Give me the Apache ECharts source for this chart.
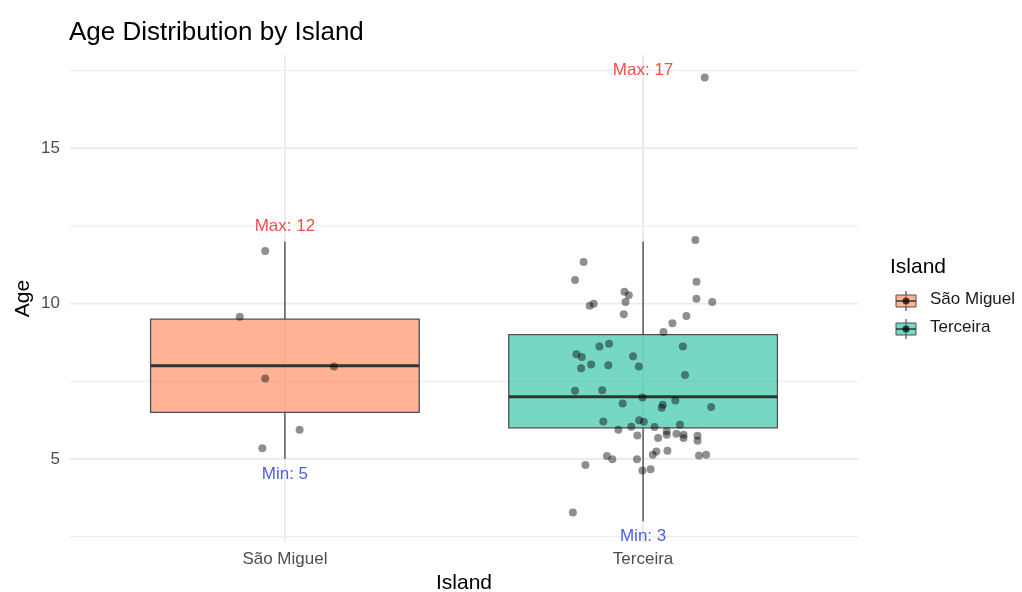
<!DOCTYPE html>
<html>
<head>
<meta charset="utf-8">
<script src="https://cdn.jsdelivr.net/npm/echarts@6/dist/echarts.min.js"></script>
<style>
html,body{margin:0;padding:0;background:#fff;}
#chart{width:1022px;height:592px;}
</style>
</head>
<body>
<div id="chart"></div>
<script>
// ---- data ----
const islands = ['São Miguel', 'Terceira'];
const whiskerLow = [5, 3];
const q1 = [6.5, 6];
const median = [8, 7];
const q3 = [9.5, 9];
const whiskerHigh = [12, 12];
const dataMax = [12, 17];
const dataMin = [5, 3];
const yTicks = [5, 10, 15];
const yMinorGrid = [2.5, 7.5, 12.5, 17.5];
const xGrid = [0, 1];

// jittered points (x position on island axis, age)
const saoMiguelX = [-0.055, -0.126, -0.055, 0.137, 0.041, -0.063];
const saoMiguelAge = [11.69, 9.58, 7.59, 7.98, 5.94, 5.35];

const terceiraX = [0.834, 0.810, 0.948, 0.960, 0.951, 0.851, 0.862, 0.946, 1.146, 1.149,
  1.149, 1.193, 1.121, 1.082, 1.057, 0.878, 0.905, 0.814, 0.829, 0.972,
  1.111, 0.855, 0.827, 0.903, 0.988, 1.117, 0.810, 0.886, 0.998, 0.943,
  1.055, 1.052, 1.090, 1.190, 0.889, 0.989, 1.002, 1.103, 0.931, 0.967,
  1.032, 1.066, 1.066, 1.093, 1.113, 1.113, 1.152, 1.152, 0.984, 1.042,
  0.899, 0.914, 0.983, 1.037, 1.027, 1.068, 1.156, 1.176, 0.839, 0.998,
  1.021, 0.804, 1.172];
const terceiraAge = [11.34, 10.76, 10.38, 10.27, 10.05, 9.93, 10.00, 9.66, 12.05, 10.70,
  10.16, 10.05, 9.60, 9.37, 9.09, 8.62, 8.71, 8.37, 8.28, 8.31,
  8.62, 8.04, 7.92, 8.02, 7.98, 7.70, 7.20, 7.21, 6.98, 6.79,
  6.75, 6.65, 6.88, 6.67, 6.21, 6.25, 6.20, 6.10, 5.94, 6.04,
  6.03, 5.89, 5.78, 5.81, 5.78, 5.68, 5.75, 5.59, 5.76, 5.68,
  5.10, 4.99, 4.99, 5.24, 5.14, 5.27, 5.11, 5.14, 4.81, 4.63,
  4.67, 3.28, 17.28];

// ---- styles ----
const boxFill = ['rgba(255,127,80,0.6)', 'rgba(26,188,156,0.6)'];
const FONT = '"Liberation Sans", Arial, Helvetica, sans-serif';
const gridColor = '#ebebeb';

const boxData = islands.map((_, i) => [i, whiskerLow[i], q1[i], median[i], q3[i], whiskerHigh[i]]);
const pointData = saoMiguelX.map((x, i) => [x, saoMiguelAge[i]])
  .concat(terceiraX.map((x, i) => [x, terceiraAge[i]]));
const maxLabels = islands.map((_, i) => ({ value: [i, dataMax[i] + 0.5], name: 'Max: ' + dataMax[i] }));
const minLabels = islands.map((_, i) => ({ value: [i, dataMin[i] - 0.5], name: 'Min: ' + dataMin[i] }));

// grid lines: [kind (0 = horizontal, 1 = vertical), value, isMajor]
const gridLineData = yMinorGrid.map(v => [0, v, 0])
  .concat(yTicks.map(v => [0, v, 1]))
  .concat(xGrid.map(v => [1, v, 1]));

const chart = echarts.init(document.getElementById('chart'), null, { renderer: 'canvas' });

function renderGrid(params, api) {
  const cs = params.coordSys;
  const kind = api.value(0), v = api.value(1), major = api.value(2);
  const w = major ? 1.8 : 1;
  if (kind === 0) {
    const y = api.coord([0, v])[1];
    return { type: 'line', shape: { x1: cs.x, y1: y, x2: cs.x + cs.width, y2: y }, style: { stroke: gridColor, lineWidth: w } };
  }
  const x = api.coord([v, 10])[0];
  return { type: 'line', shape: { x1: x, y1: cs.y, x2: x, y2: cs.y + cs.height }, style: { stroke: gridColor, lineWidth: w } };
}

function renderBox(params, api) {
  const x = api.value(0);
  const lo = api.value(1), a = api.value(2), m = api.value(3), b = api.value(4), hi = api.value(5);
  const halfW = api.size([0.75, 0])[0] / 2;
  const pLo = api.coord([x, lo]);
  const pA = api.coord([x, a]);
  const pM = api.coord([x, m]);
  const pB = api.coord([x, b]);
  const pHi = api.coord([x, hi]);
  const cx = pM[0];
  const stroke = '#505050';
  return {
    type: 'group',
    children: [
      { type: 'line', shape: { x1: cx, y1: pHi[1], x2: cx, y2: pB[1] }, style: { stroke: stroke, lineWidth: 1.4 } },
      { type: 'line', shape: { x1: cx, y1: pA[1], x2: cx, y2: pLo[1] }, style: { stroke: stroke, lineWidth: 1.4 } },
      { type: 'rect', shape: { x: cx - halfW, y: pB[1], width: halfW * 2, height: pA[1] - pB[1] },
        style: { fill: boxFill[params.dataIndex], stroke: stroke, lineWidth: 1.3 } },
      { type: 'line', shape: { x1: cx - halfW, y1: pM[1], x2: cx + halfW, y2: pM[1] }, style: { stroke: '#333', lineWidth: 3 } }
    ]
  };
}

// legend graphics
const legendGraphics = [{
  type: 'text', left: 890, top: 257,
  style: { text: 'Island', fontSize: 21, fontFamily: FONT, fill: '#000' }
}];
islands.forEach((name, i) => {
  const cy = 301 + 28 * i;
  legendGraphics.push(
    { type: 'line', shape: { x1: 906, y1: cy - 10, x2: 906, y2: cy + 10 }, style: { stroke: '#505050', lineWidth: 1.2 } },
    { type: 'rect', shape: { x: 896, y: cy - 6, width: 20, height: 12 }, style: { fill: boxFill[i], stroke: '#505050', lineWidth: 1 } },
    { type: 'line', shape: { x1: 896, y1: cy, x2: 916, y2: cy }, style: { stroke: '#333', lineWidth: 1.5 } },
    { type: 'circle', shape: { cx: 906, cy: cy, r: 3.5 }, style: { fill: 'rgba(0,0,0,0.7)' } },
    { type: 'text', left: 930, top: cy - 10, style: { text: name, fontSize: 17, fontFamily: FONT, fill: '#1a1a1a' } }
  );
});

const option = {
  animation: false,
  backgroundColor: '#fff',
  textStyle: { fontFamily: FONT },
  title: {
    text: 'Age Distribution by Island',
    left: 64, top: 15,
    textStyle: { fontSize: 26, fontWeight: 'normal', color: '#000', fontFamily: FONT }
  },
  grid: { left: 70, right: 164, top: 55, bottom: 50, containLabel: false, outerBoundsMode: 'none' },
  xAxis: {
    type: 'value', min: -0.6, max: 1.6,
    name: 'Island', nameLocation: 'middle', nameGap: 30,
    nameTextStyle: { fontSize: 21, color: '#000', fontFamily: FONT },
    axisLine: { show: false }, axisTick: { show: false }, splitLine: { show: false },
    axisLabel: {
      customValues: [0, 1], margin: 9,
      formatter: v => islands[Math.round(v)] || '',
      fontSize: 17, color: '#4d4d4d', fontFamily: FONT
    }
  },
  yAxis: {
    type: 'value', min: 2.33, max: 18,
    name: 'Age', nameLocation: 'middle', nameGap: 36, nameRotate: 90,
    nameMoveOverlap: false,
    nameTextStyle: { fontSize: 21, color: '#000', fontFamily: FONT },
    axisLine: { show: false }, axisTick: { show: false }, splitLine: { show: false },
    axisLabel: {
      customValues: yTicks, margin: 10,
      fontSize: 17, color: '#4d4d4d', fontFamily: FONT
    }
  },
  graphic: legendGraphics,
  series: [
    {
      type: 'custom', name: 'grid', z: 0, silent: true,
      renderItem: renderGrid,
      data: gridLineData
    },
    {
      type: 'custom', name: 'boxes', z: 2,
      renderItem: renderBox,
      encode: { x: 0, y: [1, 2, 3, 4, 5] },
      data: boxData
    },
    {
      type: 'scatter', name: 'points', z: 3,
      symbolSize: 8,
      itemStyle: { color: 'rgba(0,0,0,0.55)' },
      data: pointData
    },
    {
      type: 'scatter', name: 'max', z: 4, symbolSize: 0,
      label: { show: true, position: 'inside', formatter: p => p.name, fontSize: 17, color: '#f02020', fontFamily: FONT },
      data: maxLabels
    },
    {
      type: 'scatter', name: 'min', z: 4, symbolSize: 0,
      label: { show: true, position: 'inside', formatter: p => p.name, fontSize: 17, color: '#2035e0', fontFamily: FONT },
      data: minLabels
    }
  ]
};
chart.setOption(option);
</script>
</body>
</html>
